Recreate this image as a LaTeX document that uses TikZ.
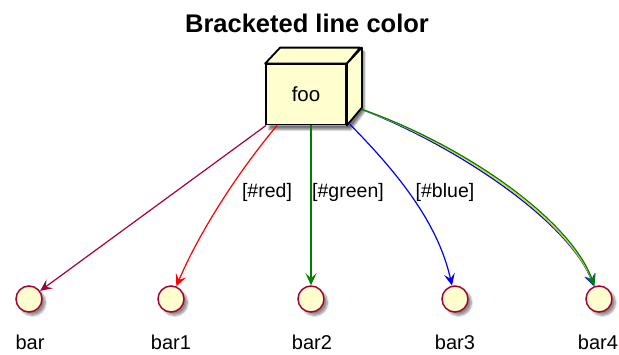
\documentclass[tikz,border=0pt]{standalone}
\usepackage{fontspec}
\setmainfont{Liberation Sans}
\usetikzlibrary{arrows.meta,shadows.blur,calc,backgrounds}
\definecolor{nodefill}{HTML}{FEFECE}
\definecolor{plum}{HTML}{A80036}
\definecolor{pgreen}{HTML}{008000}
\definecolor{pblue}{HTML}{0000FF}
\definecolor{pred}{HTML}{FF0000}
\definecolor{pyellow}{HTML}{FFFF00}
\tikzset{
  shadowed/.style={blur shadow={shadow xshift=3.5pt,shadow yshift=-3.5pt,shadow blur steps=6,shadow opacity=45}},
  foobox/.style={draw=black,line width=1.8pt,fill=nodefill,minimum width=80pt,minimum height=60pt,inner sep=0pt,
    font=\fontsize{20.5}{24}\selectfont},
  boxface/.style={draw=black,line width=1.8pt,fill=nodefill,line join=round},
  iface/.style={circle,draw=plum,line width=1.5pt,fill=nodefill,minimum size=26pt,inner sep=0pt,shadowed},
  lbl/.style={font=\fontsize{20}{24}\selectfont,inner sep=0pt,anchor=base},
  elbl/.style={font=\fontsize{19.5}{24}\selectfont,inner sep=0pt,anchor=base},
  edge/.style={line width=1.2pt,-{Stealth[length=12pt,width=11pt,inset=5pt]}},
}
\begin{document}
\begin{tikzpicture}[x=1pt,y=-1pt]
\useasboundingbox (0,0) rectangle (619,354);
\node[font=\bfseries\fontsize{25.5}{30}\selectfont,inner sep=0pt,anchor=base] (title) at (307,32) {Bracketed line color};

% interfaces
\node[iface] (bar)  at (29,299) {};
\node[iface] (bar1) at (171,299) {};
\node[iface] (bar2) at (311,299) {};
\node[iface] (bar3) at (455,299) {};
\node[iface] (bar4) at (599,299) {};
\node[lbl] (barl)  at (30,349) {bar};
\node[lbl] (bar1l) at (171,349) {bar1};
\node[lbl] (bar2l) at (312,349) {bar2};
\node[lbl] (bar3l) at (455,349) {bar3};
\node[lbl] (bar4l) at (598,349) {bar4};

% box node (front face)
\node[foobox] (foo) at (306,94.5) {foo};
\coordinate (s0) at ($(foo.south west)+(1,0)$);
\coordinate (s1) at ($(foo.south west)+(12,0)$);
\coordinate (s2) at ($(foo.south)+(5,0)$);
\coordinate (s3) at ($(foo.south east)+(3,-1)$);
\coordinate (s4) at ($(foo.south east)+(15,-16)$);

\begin{scope}[on background layer]
  \fill[nodefill,blur shadow={shadow xshift=4pt,shadow yshift=-4pt,shadow blur steps=6,shadow opacity=55}] (foo.south west) -- (foo.north west) -- ++(15,-16) -- ++(80,0) -- ++(0,60) -- (foo.south east) -- cycle;
  % connectors
  \draw[edge,plum] (s0) -- (bar);
  \draw[edge,pred] (s1) .. controls (235.5,175) and (198,235) .. (bar1);
  \draw[edge,pgreen] (s2) -- (bar2);
  \draw[edge,pblue] (s3) .. controls (410,185) and (440,232) .. (bar3);
  \draw[edge,pblue,xshift=-1.2pt,yshift=-2pt] (s4) .. controls (460,145) and (570,220) .. (bar4);
  \draw[line width=1.1pt,pyellow!85!black,shorten >=3pt] (s4) .. controls (460,145) and (570,220) .. (bar4);
  \draw[edge,pgreen,xshift=0.6pt,yshift=1.5pt] (s4) .. controls (460,145) and (570,220) .. (bar4);
\end{scope}

% box top and right faces
\draw[boxface] (foo.north west) -- ++(15,-16) -- ++(80,0) -- (foo.north east) -- cycle;
\draw[boxface] (foo.north east) -- ++(15,-16) -- ++(0,60) -- (foo.south east) -- cycle;

% edge labels
\node[elbl] (lred)   at (267,197) {[\#red]};
\node[elbl] (lgreen) at (348,197) {[\#green]};
\node[elbl] (lblue)  at (445,197) {[\#blue]};
\end{tikzpicture}
\end{document}
